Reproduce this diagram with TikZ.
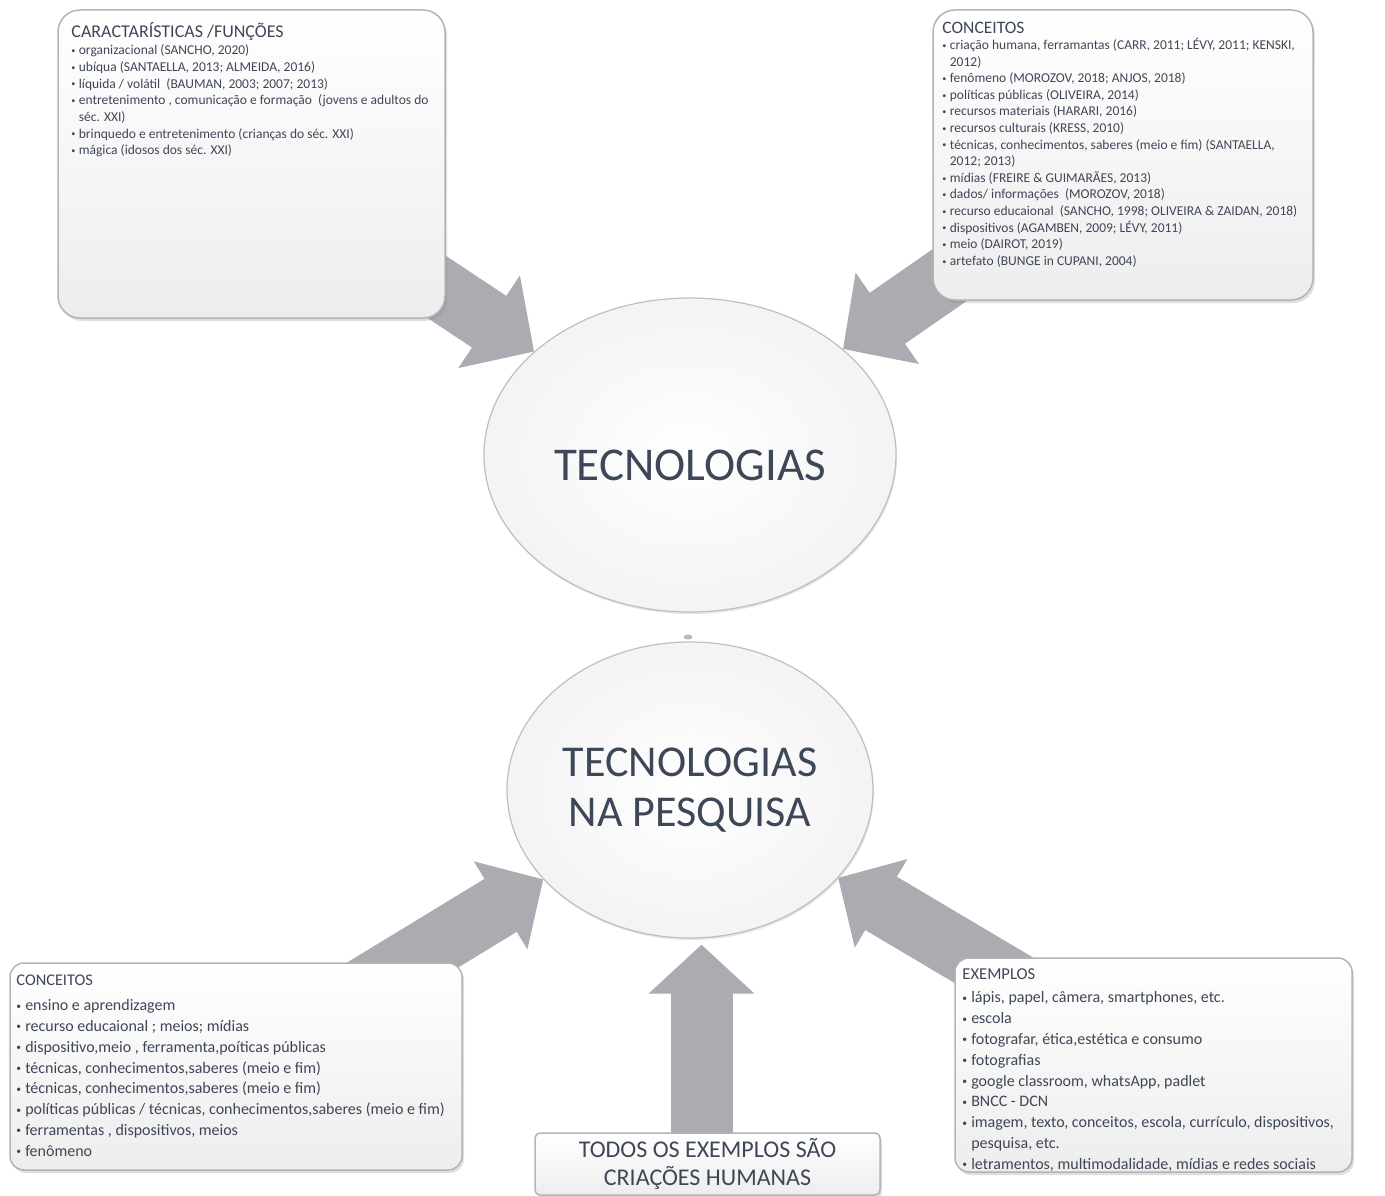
\documentclass[tikz,border=0pt]{standalone}
\usepackage{fontspec}
\setmainfont{Carlito}
\usepackage{tikz}
\usetikzlibrary{positioning, arrows.meta, shapes.geometric, shadows, backgrounds}

\definecolor{txtgray}{HTML}{3E4757}
\definecolor{arrgray}{HTML}{AAACB1}
\definecolor{rimgray}{HTML}{B2B4B8}

\newcommand{\itm}{\makebox[0.55em][l]{\raisebox{0.1em}{\scalebox{0.6}{\textbullet}}}}
\newcommand{\itc}{\hspace*{0.55em}}

\begin{document}
\begin{tikzpicture}[x=1pt, y=-1pt,
  box/.style={draw=rimgray, line width=1.5pt, rounded corners=22pt, top color=white, middle color=white, bottom color=gray!14, drop shadow={opacity=0.25, shadow xshift=2pt, shadow yshift=-3pt}, inner sep=0pt},
  tema/.style={ellipse, draw=gray!50, line width=1.2pt, inner color=white, outer color=gray!9, drop shadow={opacity=0.2, shadow xshift=1pt, shadow yshift=-2pt}, text=txtgray, inner sep=0pt, align=center},
  head/.style={inner sep=0pt, text=txtgray, anchor=north west},
  lista/.style={inner sep=0pt, text=txtgray, align=left, anchor=north west},
  bigarrow/.style={draw=arrgray, line width=62pt, -{Triangle[length=54pt, width=108pt]}}]
\useasboundingbox (0,0) rectangle (1385,1196);

% caixas de cima
\node[box, minimum width=387pt, minimum height=308pt] (carac) at (251.5,164) {};
\node[head, font=\fontsize{18}{21}\selectfont, below right=13pt and 14pt of carac.north west] (caracH) {CARACTARÍSTICAS /FUNÇÕES};
\node[lista, font=\fontsize{13.5}{16.7}\selectfont, below=4pt of caracH.south west, anchor=north west] (caracL) {%
\itm organizacional (SANCHO, 2020)\\
\itm ubíqua (SANTAELLA, 2013; ALMEIDA, 2016)\\
\itm líquida / volátil~ (BAUMAN, 2003; 2007; 2013)\\
\itm entretenimento , comunicação e formação~ (jovens e adultos do\\
\itc séc. XXI)\\
\itm brinquedo e entretenimento (crianças do séc. XXI)\\
\itm mágica (idosos dos séc. XXI)};

\node[box, minimum width=380pt, minimum height=290pt] (conc) at (1123,155) {};
\node[head, font=\fontsize{17.5}{21}\selectfont, below right=13pt and 10pt of conc.north west] (concH) {CONCEITOS};
\node[lista, font=\fontsize{13.5}{16.6}\selectfont, below=4pt of concH.south west, anchor=north west] (concL) {%
\itm criação humana, ferramantas (CARR, 2011; LÉVY, 2011; KENSKI,\\
\itc 2012)\\
\itm fenômeno (MOROZOV, 2018; ANJOS, 2018)\\
\itm políticas públicas (OLIVEIRA, 2014)\\
\itm recursos materiais (HARARI, 2016)\\
\itm recursos culturais (KRESS, 2010)\\
\itm técnicas, conhecimentos, saberes (meio e fim) (SANTAELLA,\\
\itc 2012; 2013)\\
\itm mídias (FREIRE \& GUIMARÃES, 2013)\\
\itm dados/ informações~ (MOROZOV, 2018)\\
\itm recurso educaional~ (SANCHO, 1998; OLIVEIRA \& ZAIDAN, 2018)\\
\itm dispositivos (AGAMBEN, 2009; LÉVY, 2011)\\
\itm meio (DAIROT, 2019)\\
\itm artefato (BUNGE in CUPANI, 2004)};

% elipses
\node[tema, minimum width=412pt, minimum height=314pt, font=\fontsize{47}{50}\selectfont, text height=50pt, text depth=0pt] (tec) at (690,455) {TECNOLOGIAS};
\node[fill=gray!55, ellipse, minimum width=9pt, minimum height=5pt, inner sep=0pt] (dot) at (688,637) {};
\node[tema, minimum width=366pt, minimum height=296pt, font=\fontsize{44}{50}\selectfont] (tecp) at (690,790) {TECNOLOGIAS\\NA PESQUISA};

% caixas de baixo
\node[box, rounded corners=14pt, minimum width=452pt, minimum height=207pt] (concp) at (236,1066.5) {};
\node[head, font=\fontsize{16.3}{19}\selectfont, below right=12pt and 7pt of concp.north west] (concpH) {CONCEITOS};
\node[lista, font=\fontsize{16}{20.8}\selectfont, below=14pt of concpH.south west, anchor=north west] (concpL) {%
\itm ensino e aprendizagem\\
\itm recurso educaional ; meios; mídias\\
\itm dispositivo,meio , ferramenta,poíticas públicas\\
\itm técnicas, conhecimentos,saberes (meio e fim)\\
\itm técnicas, conhecimentos,saberes (meio e fim)\\
\itm políticas públicas / técnicas, conhecimentos,saberes (meio e fim)\\
\itm ferramentas , dispositivos, meios\\
\itm fenômeno};

\node[box, rounded corners=14pt, minimum width=397pt, minimum height=214pt] (exem) at (1153.5,1065) {};
\node[head, font=\fontsize{16.6}{19}\selectfont, below right=11pt and 8pt of exem.north west] (exemH) {EXEMPLOS};
\node[lista, font=\fontsize{16}{20.8}\selectfont, below=12pt of exemH.south west, anchor=north west] (exemL) {%
\itm lápis, papel, câmera, smartphones, etc.\\
\itm escola\\
\itm fotografar, ética,estética e consumo\\
\itm fotografias\\
\itm google classroom, whatsApp, padlet\\
\itm BNCC - DCN\\
\itm imagem, texto, conceitos, escola, currículo, dispositivos,\\
\itc pesquisa, etc.\\
\itm letramentos, multimodalidade, mídias e redes sociais};

\node[box, rounded corners=5pt, minimum width=345pt, minimum height=62pt, text=txtgray, align=center, font=\fontsize{24}{28}\selectfont] (todos) at (707.5,1164) {TODOS OS EXEMPLOS SÃO\\CRIAÇÕES HUMANAS};

% setas
\begin{scope}[on background layer]
\draw[bigarrow] (carac.center) -- (tec);
\draw[bigarrow] (conc.center) -- (tec);
\draw[bigarrow, -{Triangle[length=50pt, width=100pt]}] (concp.center) -- (tecp);
\draw[bigarrow, -{Triangle[length=50pt, width=100pt]}] (exem.center) -- (tecp);
\draw[bigarrow, -{Triangle[length=49pt, width=103pt]}, shorten >=6pt] ([xshift=-6pt]todos.center) -- ([xshift=-6pt]todos.center |- tecp.south);
\end{scope}
\end{tikzpicture}
\end{document}
